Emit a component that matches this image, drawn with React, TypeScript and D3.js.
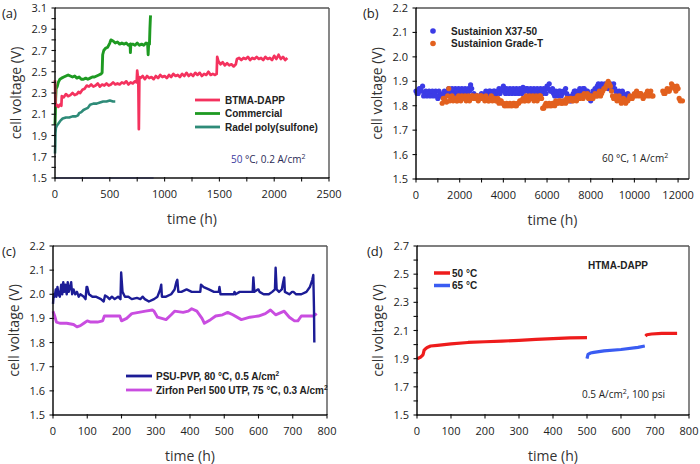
import React from "react";
import * as d3 from "d3";

// ---------------- Panel (a) data ----------------
const btmaDapp: [number, number][] = [
  [0, 2.42], [2, 2.3], [4, 2.18], [15, 2.19], [30, 2.17], [45, 2.19], [58, 2.18], [62, 2.27], [80, 2.26], [100, 2.29],
  [120, 2.27], [140, 2.28], [160, 2.3], [180, 2.28], [200, 2.29], [215, 2.31], [230, 2.3], [250, 2.33], [270, 2.34],
  [290, 2.37], [310, 2.36], [330, 2.38], [350, 2.36], [370, 2.37], [390, 2.39], [410, 2.36], [430, 2.38], [450, 2.37],
  [470, 2.39], [490, 2.37], [510, 2.38], [530, 2.4], [550, 2.38], [570, 2.39], [590, 2.38], [610, 2.4], [630, 2.39],
  [650, 2.41], [670, 2.38], [690, 2.4], [710, 2.39], [730, 2.41], [745, 2.4], [750, 2.51], [755, 2.46], [760, 2.43],
  [765, 1.96], [770, 2.45], [780, 2.44], [800, 2.46], [820, 2.43], [840, 2.46], [860, 2.44], [880, 2.45], [900, 2.43],
  [920, 2.46], [940, 2.44], [960, 2.47], [980, 2.45], [1000, 2.46], [1020, 2.44], [1040, 2.47], [1060, 2.45],
  [1080, 2.48], [1100, 2.46], [1120, 2.47], [1140, 2.45], [1160, 2.48], [1180, 2.46], [1200, 2.49], [1220, 2.46],
  [1240, 2.48], [1260, 2.46], [1280, 2.49], [1300, 2.47], [1320, 2.49], [1340, 2.46], [1360, 2.48], [1380, 2.47],
  [1400, 2.5], [1420, 2.47], [1440, 2.48], [1460, 2.47], [1475, 2.48], [1480, 2.64], [1490, 2.6], [1510, 2.57],
  [1530, 2.59], [1550, 2.56], [1570, 2.58], [1590, 2.56], [1610, 2.57], [1630, 2.55], [1650, 2.57], [1660, 2.62],
  [1680, 2.63], [1700, 2.61], [1720, 2.63], [1740, 2.62], [1760, 2.64], [1780, 2.61], [1800, 2.63], [1820, 2.62],
  [1840, 2.64], [1860, 2.62], [1880, 2.63], [1900, 2.61], [1920, 2.64], [1940, 2.62], [1960, 2.63], [1980, 2.61],
  [2000, 2.65], [2020, 2.62], [2040, 2.66], [2060, 2.62], [2080, 2.64], [2100, 2.61], [2120, 2.63],
];
const commercial: [number, number][] = [
  [0, 2.0], [3, 2.1], [6, 2.25], [10, 2.34], [20, 2.36], [30, 2.4], [45, 2.43], [60, 2.44], [80, 2.45], [100, 2.46],
  [120, 2.47], [140, 2.46], [160, 2.45], [180, 2.46], [200, 2.44], [220, 2.45], [240, 2.43], [260, 2.43], [280, 2.44],
  [300, 2.43], [320, 2.44], [340, 2.45], [360, 2.45], [380, 2.46], [400, 2.47], [420, 2.48], [430, 2.49], [435, 2.66],
  [445, 2.7], [460, 2.72], [480, 2.73], [500, 2.77], [510, 2.8], [530, 2.79], [550, 2.77], [570, 2.78], [590, 2.76],
  [610, 2.77], [630, 2.76], [650, 2.77], [670, 2.75], [685, 2.76], [688, 2.68], [692, 2.76], [710, 2.76], [730, 2.75],
  [750, 2.77], [770, 2.75], [790, 2.76], [810, 2.75], [830, 2.77], [845, 2.76], [850, 2.66], [855, 2.77], [862, 2.76],
  [866, 2.9], [870, 3.0], [872, 3.03],
];
const radel: [number, number][] = [
  [0, 1.73], [2, 1.8], [4, 1.92], [8, 1.97], [15, 1.99], [30, 2.01], [50, 2.04], [70, 2.06], [100, 2.07], [130, 2.07],
  [160, 2.08], [190, 2.08], [210, 2.09], [220, 2.11], [240, 2.12], [260, 2.14], [280, 2.15], [300, 2.16], [320, 2.19],
  [350, 2.2], [380, 2.2], [410, 2.21], [440, 2.22], [470, 2.22], [500, 2.23], [530, 2.22], [550, 2.22],
];
const aXTicks = [0, 500, 1000, 1500, 2000, 2500];
const aXMinor = [250, 750, 1250, 1750, 2250];
const aYTicks = [1.5, 1.7, 1.9, 2.1, 2.3, 2.5, 2.7, 2.9, 3.1];
const aYMinor = [1.6, 1.8, 2.0, 2.2, 2.4, 2.6, 2.8, 3.0];
const aLegend = ["BTMA-DAPP", "Commercial", "Radel poly(sulfone)"];

// ---------------- Panel (b) data ----------------
const x3750: [number, number][] = [
  [0, 1.86], [100, 1.85], [200, 1.87], [300, 1.88], [400, 1.85], [500, 1.84], [600, 1.86], [700, 1.85], [800, 1.84],
  [900, 1.86], [1000, 1.83], [1100, 1.85], [1200, 1.84], [1300, 1.86], [1400, 1.85], [1500, 1.87], [1600, 1.85],
  [1700, 1.86], [1800, 1.87], [1900, 1.85], [2000, 1.86], [2100, 1.87], [2200, 1.85], [2300, 1.86], [2400, 1.87],
  [2500, 1.885], [2600, 1.84], [2700, 1.83], [2800, 1.84], [2900, 1.83], [3000, 1.85], [3100, 1.84], [3200, 1.86],
  [3300, 1.85], [3400, 1.86], [3500, 1.84], [3600, 1.86], [3700, 1.85], [3800, 1.87], [3900, 1.86], [4000, 1.88],
  [4100, 1.85], [4200, 1.86], [4300, 1.87], [4400, 1.85], [4500, 1.86], [4600, 1.87], [4700, 1.85], [4800, 1.86],
  [4900, 1.875], [5000, 1.86], [5100, 1.87], [5200, 1.85], [5300, 1.86], [5400, 1.87], [5500, 1.85], [5600, 1.86],
  [5700, 1.87], [5800, 1.85], [5900, 1.86], [6000, 1.88], [6100, 1.89], [6200, 1.86], [6300, 1.85], [6400, 1.86],
  [6500, 1.84], [6600, 1.86], [6700, 1.85], [6800, 1.86], [6900, 1.85], [7000, 1.83], [7100, 1.82], [7200, 1.85],
  [7300, 1.86], [7400, 1.85], [7500, 1.87], [7600, 1.86], [7700, 1.87], [7800, 1.86], [7900, 1.85], [8000, 1.82],
  [8100, 1.86], [8200, 1.87], [8300, 1.88], [8400, 1.87], [8500, 1.89], [8600, 1.88], [8700, 1.88], [8800, 1.87],
  [8900, 1.89], [9000, 1.88], [9100, 1.87], [9200, 1.85], [9300, 1.86], [9400, 1.84], [9500, 1.85], [9600, 1.84],
  [9700, 1.85],
];
const x3750Extra: [number, number][] = [
  [50, 1.85], [150, 1.87], [250, 1.86], [350, 1.84], [450, 1.86], [550, 1.85], [650, 1.84], [750, 1.86], [850, 1.85],
  [950, 1.84], [1050, 1.86], [1150, 1.84], [1250, 1.85], [1350, 1.84], [1450, 1.86], [1550, 1.85], [1650, 1.87],
  [1750, 1.85], [1850, 1.86], [1950, 1.87], [2050, 1.85], [2150, 1.86], [2250, 1.87], [2350, 1.85], [2450, 1.86],
  [2550, 1.87], [2650, 1.85], [2750, 1.84], [2850, 1.83], [2950, 1.84], [3050, 1.83], [3150, 1.85], [3250, 1.84],
  [3350, 1.86], [3450, 1.85], [3550, 1.86], [3650, 1.84], [3750, 1.86], [3850, 1.85], [3950, 1.87], [4050, 1.86],
  [4150, 1.87], [4250, 1.85], [4350, 1.86], [4450, 1.87], [4550, 1.85], [4650, 1.86], [4750, 1.87], [4850, 1.85],
  [4950, 1.86], [5050, 1.87], [5150, 1.86], [5250, 1.87], [5350, 1.85], [5450, 1.86], [5550, 1.87], [5650, 1.85],
  [5750, 1.86], [5850, 1.87], [5950, 1.85], [6050, 1.87], [6150, 1.86], [6250, 1.87], [6350, 1.84], [6450, 1.85],
  [6550, 1.86], [6650, 1.84], [6750, 1.86], [6850, 1.87], [6950, 1.84], [7050, 1.82], [7150, 1.84], [7250, 1.86],
  [7350, 1.85], [7450, 1.86], [7550, 1.85], [7650, 1.87], [7750, 1.85], [7850, 1.86], [7950, 1.84], [8050, 1.84],
  [8150, 1.85], [8250, 1.86], [8350, 1.89], [8450, 1.88], [8550, 1.87], [8650, 1.89], [8750, 1.88], [8850, 1.88],
  [8950, 1.87], [9050, 1.89], [9150, 1.86], [9250, 1.84], [9350, 1.85], [9450, 1.86], [9550, 1.84], [9650, 1.83],
];
const gradeT: [number, number][] = [
  [1200, 1.81], [1300, 1.83], [1400, 1.815], [1500, 1.87], [1600, 1.83], [1700, 1.82], [1800, 1.83], [1900, 1.82],
  [2000, 1.83], [2100, 1.84], [2200, 1.83], [2300, 1.82], [2400, 1.84], [2500, 1.83], [2600, 1.84], [2700, 1.83],
  [2800, 1.84], [2900, 1.83], [3000, 1.84], [3100, 1.83], [3200, 1.84], [3300, 1.82], [3400, 1.83], [3500, 1.82],
  [3600, 1.83], [3700, 1.82], [3800, 1.81], [3900, 1.82], [4000, 1.81], [4100, 1.8], [4200, 1.8], [4300, 1.81],
  [4400, 1.8], [4500, 1.81], [4600, 1.8], [4700, 1.81], [4800, 1.82], [4900, 1.83], [5000, 1.82], [5100, 1.83],
  [5200, 1.84], [5300, 1.83], [5400, 1.82], [5500, 1.84], [5600, 1.83], [5700, 1.84], [5800, 1.79], [5900, 1.8],
  [6000, 1.8], [6100, 1.81], [6200, 1.8], [6300, 1.81], [6400, 1.82], [6500, 1.81], [6600, 1.82], [6700, 1.81],
  [6800, 1.82], [6900, 1.83], [7000, 1.82], [7100, 1.83], [7200, 1.82], [7300, 1.83], [7400, 1.84], [7500, 1.83],
  [7600, 1.84], [7700, 1.85], [7800, 1.84], [7900, 1.83], [8000, 1.84], [8100, 1.83], [8200, 1.85], [8300, 1.84],
  [8400, 1.86], [8500, 1.85], [8600, 1.87], [8700, 1.88], [8800, 1.9], [8900, 1.88], [9000, 1.84], [9100, 1.83],
  [9200, 1.82], [9300, 1.84], [9400, 1.81], [9500, 1.83], [9600, 1.81], [9700, 1.82], [9800, 1.84], [9900, 1.83],
  [10000, 1.85], [10100, 1.86], [10200, 1.84], [10300, 1.85], [10400, 1.83], [10500, 1.84], [10600, 1.86],
  [10700, 1.85], [10800, 1.84], [11300, 1.86], [11400, 1.85], [11500, 1.87], [11600, 1.86], [11700, 1.89],
  [11800, 1.88], [11900, 1.86], [12000, 1.87], [12100, 1.82], [12200, 1.82],
];
const gradeTExtra: [number, number][] = [
  [1250, 1.83], [1350, 1.82], [1450, 1.84], [1550, 1.82], [1650, 1.84], [1750, 1.83], [1850, 1.82], [1950, 1.84],
  [2050, 1.82], [2150, 1.83], [2250, 1.84], [2350, 1.83], [2450, 1.82], [2550, 1.84], [2650, 1.83], [2750, 1.84],
  [2850, 1.82], [2950, 1.84], [3050, 1.83], [3150, 1.82], [3250, 1.83], [3350, 1.82], [3450, 1.84], [3550, 1.83],
  [3650, 1.82], [3750, 1.83], [3850, 1.82], [3950, 1.81], [4050, 1.8], [4150, 1.81], [4250, 1.8], [4350, 1.8],
  [4450, 1.81], [4550, 1.8], [4650, 1.81], [4750, 1.82], [4850, 1.82], [4950, 1.82], [5050, 1.84], [5150, 1.82],
  [5250, 1.83], [5350, 1.84], [5450, 1.83], [5550, 1.82], [5650, 1.84], [5750, 1.83], [5850, 1.79], [5950, 1.81],
  [6050, 1.8], [6150, 1.8], [6250, 1.81], [6350, 1.8], [6450, 1.81], [6550, 1.82], [6650, 1.81], [6750, 1.82],
  [6850, 1.81], [6950, 1.82], [7050, 1.83], [7150, 1.82], [7250, 1.83], [7350, 1.82], [7450, 1.84], [7550, 1.84],
  [7650, 1.83], [7750, 1.84], [7850, 1.85], [7950, 1.84], [8050, 1.83], [8150, 1.84], [8250, 1.84], [8350, 1.85],
  [8450, 1.84], [8550, 1.86], [8650, 1.87], [8750, 1.89], [8850, 1.89], [8950, 1.86], [9050, 1.83], [9150, 1.84],
  [9250, 1.83], [9350, 1.82], [9450, 1.82], [9550, 1.82], [9650, 1.82], [9750, 1.83], [9850, 1.83], [9950, 1.84],
  [10050, 1.84], [10150, 1.85], [10250, 1.85], [10350, 1.84], [10450, 1.84], [10550, 1.85], [10650, 1.84],
  [10750, 1.86], [10850, 1.84], [11350, 1.85], [11450, 1.86], [11550, 1.86], [11650, 1.87], [11750, 1.88],
  [11850, 1.87], [11950, 1.88], [12050, 1.83],
];
const bXTicks = [0, 2000, 4000, 6000, 8000, 10000, 12000];
const bXMinor = [1000, 3000, 5000, 7000, 9000, 11000];
const bYTicks = [1.5, 1.6, 1.7, 1.8, 1.9, 2.0, 2.1, 2.2];
const bLegend = ["Sustainion X37-50", "Sustainion Grade-T"];

// ---------------- Panel (c) data ----------------
const psuPvp: [number, number][] = [
  [0, 1.96], [2, 2.0], [5, 1.99], [8, 2.02], [10, 1.99], [13, 2.03], [16, 2.0], [20, 1.99], [24, 2.04], [27, 2.0],
  [30, 2.05], [33, 2.01], [36, 2.04], [40, 2.0], [43, 2.05], [46, 2.01], [50, 2.03], [53, 2.05], [56, 2.0], [60, 2.02],
  [65, 2.0], [70, 2.01], [75, 1.99], [80, 2.0], [90, 1.99], [95, 1.98], [98, 2.03], [100, 2.03], [105, 2.0],
  [115, 1.99], [125, 1.99], [140, 1.98], [148, 1.97], [152, 1.995], [158, 1.99], [165, 1.98], [172, 1.99], [180, 1.98],
  [190, 1.99], [197, 1.98], [199, 2.09], [203, 2.01], [210, 1.99], [220, 1.99], [230, 1.98], [245, 1.985], [255, 1.98],
  [262, 1.99], [268, 1.98], [280, 1.97], [295, 1.98], [305, 1.99], [313, 2.02], [316, 2.04], [318, 1.99], [330, 1.99],
  [345, 2.0], [355, 2.02], [360, 2.05], [363, 2.06], [366, 2.01], [375, 2.01], [390, 2.02], [405, 2.01], [420, 2.01],
  [430, 2.01], [432, 2.04], [440, 2.03], [455, 2.02], [470, 2.01], [484, 2.01], [486, 2.03], [489, 2.0], [500, 2.0],
  [515, 2.0], [528, 2.0], [530, 2.01], [533, 2.0], [545, 2.01], [560, 2.01], [575, 2.01], [583, 2.01], [585, 2.07],
  [588, 2.01], [598, 2.02], [600, 2.02], [603, 2.01], [615, 2.0], [630, 2.0], [640, 2.01], [648, 2.02], [650, 2.11],
  [653, 2.02], [660, 2.01], [668, 2.02], [672, 2.05], [675, 2.07], [677, 2.01], [690, 2.0], [698, 2.01], [702, 2.01],
  [710, 2.0], [725, 2.0], [740, 2.01], [750, 2.03], [757, 2.06], [760, 2.08], [762, 1.94], [763, 1.8],
];
const zirfon: [number, number][] = [
  [0, 1.93], [5, 1.91], [10, 1.885], [20, 1.88], [40, 1.88], [60, 1.875], [70, 1.865], [80, 1.87], [90, 1.88],
  [100, 1.89], [110, 1.885], [130, 1.885], [145, 1.89], [150, 1.91], [170, 1.91], [195, 1.91], [200, 1.89],
  [215, 1.9], [230, 1.92], [250, 1.925], [270, 1.93], [290, 1.935], [295, 1.93], [305, 1.905], [330, 1.895],
  [345, 1.915], [355, 1.93], [380, 1.925], [395, 1.93], [405, 1.94], [420, 1.93], [435, 1.9], [442, 1.88],
  [460, 1.895], [475, 1.91], [495, 1.915], [510, 1.925], [525, 1.915], [550, 1.895], [575, 1.905], [600, 1.91],
  [620, 1.92], [635, 1.935], [650, 1.915], [675, 1.93], [690, 1.905], [705, 1.89], [715, 1.89], [725, 1.91],
  [745, 1.91], [760, 1.91], [770, 1.92],
];
const cXTicks = [0, 100, 200, 300, 400, 500, 600, 700, 800];
const cYTicks = [1.5, 1.6, 1.7, 1.8, 1.9, 2.0, 2.1, 2.2];
const cLegend = ["PSU-PVP, 80 °C, 0.5 A/cm", "Zirfon Perl 500 UTP, 75 °C, 0.3 A/cm"];

// ---------------- Panel (d) data ----------------
const htma50a: [number, number][] = [
  [0, 1.9], [5, 1.905], [10, 1.91], [15, 1.92], [18, 1.93], [21, 1.96], [25, 1.97], [30, 1.98], [40, 1.99],
  [60, 1.995], [80, 2.0], [100, 2.005], [150, 2.015], [200, 2.02], [250, 2.025], [300, 2.03], [350, 2.037],
  [400, 2.043], [450, 2.047], [500, 2.05],
];
const htma65: [number, number][] = [
  [500, 1.9], [503, 1.93], [510, 1.94], [520, 1.945], [550, 1.955], [600, 1.965], [650, 1.98], [670, 1.99],
];
const htma50b: [number, number][] = [
  [672, 2.06], [676, 2.07], [690, 2.075], [720, 2.08], [765, 2.08],
];
const dXTicks = [0, 100, 200, 300, 400, 500, 600, 700, 800];
const dYTicks = [1.5, 1.7, 1.9, 2.1, 2.3, 2.5, 2.7];
const dYMinor = [1.6, 1.8, 2.0, 2.2, 2.4, 2.6];
const dLegend = ["50 °C", "65 °C"];

// ---------------- styling ----------------
const FONT = "'Open Sans', 'Noto Sans', sans-serif";
const LFONT = "'Liberation Sans', Arial, sans-serif";

type Box = { x0: number; x1: number; y0: number; y1: number };

function Axes(props: {
  box: Box;
  x: d3.ScaleLinear<number, number>;
  y: d3.ScaleLinear<number, number>;
  xTicks: number[];
  xMinor?: number[];
  yTicks: number[];
  yMinor?: number[];
  letter: string;
  letterX: number;
}) {
  const { box, x, y, xTicks, xMinor = [], yTicks, yMinor = [], letter, letterX } = props;
  const fmtY = d3.format(".1f");
  const cx = (box.x0 + box.x1) / 2;
  const cy = (box.y0 + box.y1) / 2;
  return (
    <g>
      <line x1={box.x0} x2={box.x1} y1={box.y0} y2={box.y0} stroke="#555" strokeWidth={1.4} />
      <line x1={box.x1} x2={box.x1} y1={box.y0} y2={box.y1} stroke="#555" strokeWidth={1.4} />
      <line x1={box.x0} x2={box.x0} y1={box.y0} y2={box.y1 + 0.7} stroke="#111" strokeWidth={1.5} />
      <line x1={box.x0} x2={box.x1} y1={box.y1} y2={box.y1} stroke="#111" strokeWidth={1.5} />
      {xTicks.concat(xMinor).map((t) => (
        <line key={"xt" + t} x1={x(t)} x2={x(t)} y1={box.y1 - 1} y2={box.y1 + 3.5} stroke="#111" strokeWidth={1.1} />
      ))}
      {yTicks.concat(yMinor).map((t) => (
        <line key={"yt" + t} x1={box.x0 - 3.5} x2={box.x0 + 1} y1={y(t)} y2={y(t)} stroke="#111" strokeWidth={1.1} />
      ))}
      {xTicks.map((t) => (
        <text key={"xl" + t} x={x(t)} y={box.y1 + 20} textAnchor="middle" fontSize={11} fontFamily={FONT} fill="#222">
          {t}
        </text>
      ))}
      {yTicks.map((t) => (
        <text key={"yl" + t} x={box.x0 - 8} y={y(t) + 4} textAnchor="end" fontSize={11} fontFamily={FONT} fill="#222">
          {fmtY(t)}
        </text>
      ))}
      <text x={cx} y={box.y1 + 46} textAnchor="middle" fontSize={14} fontFamily={FONT} fill="#333">
        time (h)
      </text>
      <text
        transform={`translate(${box.x0 - 34},${cy}) rotate(-90)`}
        textAnchor="middle"
        fontSize={14}
        fontFamily={FONT}
        fill="#333"
      >
        cell voltage (V)
      </text>
      <text x={letterX} y={box.y0 + 10} fontSize={13} fontFamily={FONT} fill="#222">
        {letter}
      </text>
    </g>
  );
}

function makeLine(x: d3.ScaleLinear<number, number>, y: d3.ScaleLinear<number, number>) {
  return d3
    .line<[number, number]>()
    .x((d) => x(d[0]))
    .y((d) => y(d[1]));
}

export default function App() {
  // panel a
  const boxA: Box = { x0: 55, x1: 329, y0: 8, y1: 178 };
  const xA = d3.scaleLinear().domain([0, 2500]).range([boxA.x0, boxA.x1]);
  const yA = d3.scaleLinear().domain([1.5, 3.1]).range([boxA.y1, boxA.y0]);
  const lA = makeLine(xA, yA);
  // panel b
  const boxB: Box = { x0: 416, x1: 689, y0: 8, y1: 179 };
  const xB = d3.scaleLinear().domain([0, 12500]).range([boxB.x0, boxB.x1]);
  const yB = d3.scaleLinear().domain([1.5, 2.2]).range([boxB.y1, boxB.y0]);
  const bluePts = x3750.concat(x3750Extra);
  const orangePts = gradeT.concat(gradeTExtra);
  // panel c
  const boxC: Box = { x0: 53, x1: 327, y0: 246, y1: 415 };
  const xC = d3.scaleLinear().domain([0, 800]).range([boxC.x0, boxC.x1]);
  const yC = d3.scaleLinear().domain([1.5, 2.2]).range([boxC.y1, boxC.y0]);
  const lC = makeLine(xC, yC);
  // panel d
  const boxD: Box = { x0: 417, x1: 689, y0: 246, y1: 415 };
  const xD = d3.scaleLinear().domain([0, 800]).range([boxD.x0, boxD.x1]);
  const yD = d3.scaleLinear().domain([1.5, 2.7]).range([boxD.y1, boxD.y0]);
  const lD = makeLine(xD, yD);

  const cA = ["#f4325e", "#1e9a22", "#2e8b78"];
  const cB = ["#3b3be6", "#e2601e"];
  const cC = ["#1c1c96", "#c94de0"];
  const cD = ["#ee1c1c", "#3a5cf2"];

  return (
    <svg width={700} height={464} style={{ display: "block", position: "absolute", left: 0, top: 0 }}>
      <rect x={0} y={0} width={700} height={464} fill="#fff" />

      {/* ---- (a) ---- */}
      <line x1={xA(0)} x2={xA(900)} y1={yA(1.5)} y2={yA(1.5)} stroke="#3344cc" strokeWidth={1.2} />
      <path d={lA(radel) || ""} fill="none" stroke={cA[2]} strokeWidth={2.6} strokeLinejoin="round" />
      <path d={lA(commercial) || ""} fill="none" stroke={cA[1]} strokeWidth={2.9} strokeLinejoin="round" />
      <path d={lA(btmaDapp) || ""} fill="none" stroke={cA[0]} strokeWidth={2.7} strokeLinejoin="round" />
      <Axes box={boxA} x={xA} y={yA} xTicks={aXTicks} xMinor={aXMinor} yTicks={aYTicks} yMinor={aYMinor} letter="(a)" letterX={2} />
      {aLegend.map((name, i) => (
        <g key={name}>
          <line x1={195} x2={220} y1={100 + i * 13.5} y2={100 + i * 13.5} stroke={cA[i]} strokeWidth={2.8} />
          <text x={225} y={100 + i * 13.5 + 3.5} fontSize={10} fontWeight="bold" fontFamily={LFONT} fill="#222">
            {name}
          </text>
        </g>
      ))}
      <text x={231} y={163} fontSize={10} fontFamily={FONT} fill="#2a2a55">
        <tspan fill="#3a3aa0">50</tspan> °C, 0.2 A/cm<tspan fontSize={7} dy={-4}>2</tspan>
      </text>

      {/* ---- (b) ---- */}
      {bluePts.map((d, i) => (
        <circle key={"b1" + i} cx={xB(d[0])} cy={yB(d[1])} r={2.6} fill={cB[0]} />
      ))}
      {orangePts.map((d, i) => (
        <circle key={"b2" + i} cx={xB(d[0])} cy={yB(d[1])} r={2.6} fill={cB[1]} />
      ))}
      <Axes box={boxB} x={xB} y={yB} xTicks={bXTicks} xMinor={bXMinor} yTicks={bYTicks} letter="(b)" letterX={363} />
      {bLegend.map((name, i) => (
        <g key={name}>
          <circle cx={433} cy={31 + i * 12.5} r={2.8} fill={cB[i]} />
          <text x={451} y={31 + i * 12.5 + 3.5} fontSize={10} fontWeight="bold" fontFamily={LFONT} fill="#222">
            {name}
          </text>
        </g>
      ))}
      <text x={602} y={162} fontSize={10} fontFamily={FONT} fill="#222">
        60 °C, 1 A/cm<tspan fontSize={7} dy={-4}>2</tspan>
      </text>

      {/* ---- (c) ---- */}
      <path d={lC(zirfon) || ""} fill="none" stroke={cC[1]} strokeWidth={2.9} strokeLinejoin="round" />
      <path d={lC(psuPvp) || ""} fill="none" stroke={cC[0]} strokeWidth={2.4} strokeLinejoin="round" />
      <Axes box={boxC} x={xC} y={yC} xTicks={cXTicks} yTicks={cYTicks} letter="(c)" letterX={2} />
      {cLegend.map((name, i) => (
        <g key={name}>
          <line x1={126} x2={152} y1={376 + i * 14} y2={376 + i * 14} stroke={cC[i]} strokeWidth={2.8} />
          <text x={156} y={376 + i * 14 + 3.5} fontSize={10} fontWeight="bold" fontFamily={LFONT} fill="#222">
            {name}
            <tspan fontSize={6.5} dy={-4}>2</tspan>
          </text>
        </g>
      ))}

      {/* ---- (d) ---- */}
      <path d={lD(htma50a) || ""} fill="none" stroke={cD[0]} strokeWidth={3.2} strokeLinejoin="round" />
      <path d={lD(htma65) || ""} fill="none" stroke={cD[1]} strokeWidth={3.2} strokeLinejoin="round" />
      <path d={lD(htma50b) || ""} fill="none" stroke={cD[0]} strokeWidth={3.2} strokeLinejoin="round" />
      <Axes box={boxD} x={xD} y={yD} xTicks={dXTicks} yTicks={dYTicks} yMinor={dYMinor} letter="(d)" letterX={367} />
      {dLegend.map((name, i) => (
        <g key={name}>
          <line x1={434} x2={450} y1={273 + i * 12.5} y2={273 + i * 12.5} stroke={cD[i]} strokeWidth={3.5} />
          <text x={452} y={273 + i * 12.5 + 3.5} fontSize={10} fontWeight="bold" fontFamily={LFONT} fill="#222">
            {name}
          </text>
        </g>
      ))}
      <text x={618} y={269} textAnchor="middle" fontSize={10} fontWeight="bold" fontFamily={LFONT} fill="#222">
        HTMA-DAPP
      </text>
      <text x={582} y={398} fontSize={10} fontFamily={FONT} fill="#222">
        0.5 A/cm<tspan fontSize={7} dy={-4}>2</tspan>
        <tspan dy={4}>, 100 psi</tspan>
      </text>
    </svg>
  );
}
